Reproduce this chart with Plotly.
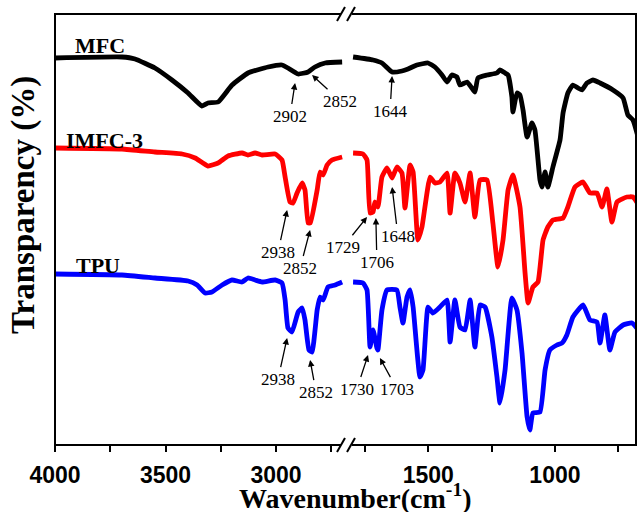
import plotly.graph_objects as go

# ---- data (wavenumber in cm-1, transparency in arbitrary offset units) ----
mfc_wn_hi = [4000, 3697, 3638, 3548, 3471, 3398, 3335, 3308, 3262, 3199, 3127, 3036, 2973, 2946, 2900, 2855, 2824, 2778, 2701]
mfc_t_hi = [387, 388, 386, 377, 365, 352, 339, 342, 343, 360, 372, 378, 380, 377, 371, 373, 378, 382, 383]
mfc_wn_lo = [1797, 1718, 1683, 1643, 1604, 1580, 1545, 1501, 1474, 1446, 1426, 1407, 1387, 1375, 1347, 1328, 1316, 1304,
             1268, 1229, 1217, 1197, 1185, 1170, 1166, 1150, 1138, 1126, 1110, 1091, 1079, 1059, 1051, 1039, 1028, 1008,
             980, 968, 949, 929, 909, 893, 874, 850, 822, 771, 731, 712, 692, 672]
mfc_t_lo = [388, 385, 382, 373, 374, 376, 380, 382, 378, 370, 363, 370, 368, 360, 363, 357, 353, 367,
            370, 372, 375, 372, 370, 348, 333, 352, 350, 335, 308, 322, 315, 265, 258, 273, 258, 278,
            305, 332, 352, 360, 357, 355, 362, 365, 362, 355, 347, 330, 325, 308]

imfc_wn_hi = [4000, 3697, 3548, 3425, 3366, 3308, 3262, 3217, 3154, 3127, 3095, 3063, 3004, 2973, 2959, 2937, 2923,
              2905, 2882, 2869, 2855, 2845, 2814, 2801, 2787, 2769, 2747, 2701]
imfc_t_hi = [297, 296, 293, 291, 287, 279, 282, 289, 292, 290, 292, 290, 291, 285, 268, 243, 242,
             252, 262, 255, 222, 222, 255, 273, 270, 280, 285, 288]
imfc_wn_lo = [1797, 1758, 1742, 1730, 1718, 1711, 1699, 1683, 1663, 1643, 1624, 1604, 1592, 1572, 1560, 1541, 1525,
              1493, 1474, 1454, 1426, 1414, 1395, 1375, 1355, 1335, 1316, 1296, 1268, 1245, 1225, 1205, 1185, 1166,
              1138, 1118, 1106, 1087, 1067, 1047, 1028, 1008, 968, 949, 921, 889, 862, 834, 814, 795, 775, 755, 716,
              692, 664]
imfc_t_lo = [292, 291, 285, 232, 233, 243, 238, 268, 277, 267, 278, 272, 237, 280, 273, 205, 218,
             268, 262, 263, 272, 232, 272, 262, 243, 272, 228, 265, 265, 222, 178, 205, 255, 270,
             238, 172, 142, 158, 163, 205, 218, 225, 227, 238, 258, 263, 252, 252, 238, 256, 223, 243, 248,
             248, 238]

tpu_wn_hi = [4000, 3697, 3548, 3398, 3357, 3321, 3290, 3244, 3199, 3154, 3127, 3095, 3063, 3004, 2973, 2959, 2946,
             2928, 2900, 2882, 2869, 2851, 2837, 2814, 2801, 2787, 2765, 2733, 2701]
tpu_t_hi = [171, 170, 167, 164, 160, 152, 153, 160, 165, 163, 167, 165, 163, 165, 162, 145, 117,
            113, 133, 137, 125, 95, 93, 135, 148, 145, 158, 160, 163]
tpu_wn_lo = [1797, 1758, 1742, 1730, 1718, 1703, 1699, 1683, 1663, 1624, 1612, 1600, 1584, 1572, 1560, 1533, 1521,
             1501, 1482, 1454, 1426, 1414, 1395, 1375, 1355, 1335, 1316, 1296, 1276, 1249, 1229, 1217, 1197, 1170,
             1150, 1130, 1110, 1099, 1087, 1059, 1039, 1020, 992, 972, 953, 929, 889, 862, 834, 822, 803, 783, 763,
             731, 696, 664]
tpu_t_lo = [163, 162, 155, 98, 115, 97, 95, 135, 155, 155, 138, 122, 148, 155, 138, 68, 75,
            138, 132, 138, 145, 103, 145, 118, 115, 145, 98, 140, 138, 108, 68, 42, 75, 147,
            135, 92, 28, 15, 32, 33, 75, 95, 100, 102, 110, 128, 140, 125, 123, 102, 130, 95, 113,
            120, 122, 113]

series = [
    ("MFC", "#000000", mfc_wn_hi, mfc_t_hi, mfc_wn_lo, mfc_t_lo),
    ("IMFC-3", "#ff0000", imfc_wn_hi, imfc_t_hi, imfc_wn_lo, imfc_t_lo),
    ("TPU", "#0000ff", tpu_wn_hi, tpu_t_hi, tpu_wn_lo, tpu_t_lo),
]

# series name labels (wavenumber, value)
name_pos = {"MFC": (3796, 400), "IMFC-3": (3774, 305), "TPU": (3805, 180)}

# peak annotations: (axis, text, tip_wn, tip_t, label_wn, label_t)
peaks = [
    ("x", "2902", 2914, 362, 2937, 329),
    ("x", "2852", 2837, 370, 2710, 344),
    ("x2", "1644", 1643, 369, 1651, 334),
    ("x", "2938", 2950, 235, 2991, 193),
    ("x", "2852", 2846, 215, 2891, 177),
    ("x2", "1729", 1742, 228, 1837, 198),
    ("x2", "1706", 1707, 227, 1703, 183),
    ("x2", "1648", 1643, 258, 1620, 209),
    ("x", "2938", 2950, 107, 2991, 66),
    ("x", "2852", 2846, 85, 2819, 53),
    ("x2", "1730", 1738, 90, 1782, 56),
    ("x2", "1703", 1691, 87, 1624, 56),
]

left_ticks = [4000, 3750, 3500, 3250, 3000, 2750]
left_text = ["4000", "", "3500", "", "3000", ""]
right_ticks = [1750, 1500, 1250, 1000, 750]
right_text = ["", "1500", "", "1000", ""]

SERIF = "Liberation Serif"
SANS = "Liberation Sans"

fig = go.Figure()
for name, color, wh, th, wl, tl in series:
    fig.add_trace(go.Scatter(x=wh, y=th, mode="lines",
                             line=dict(color=color, width=4.8, shape="spline", smoothing=0.4),
                             xaxis="x", yaxis="y", showlegend=False, hoverinfo="skip"))
    fig.add_trace(go.Scatter(x=wl, y=tl, mode="lines",
                             line=dict(color=color, width=4.8, shape="spline", smoothing=0.4),
                             xaxis="x2", yaxis="y", showlegend=False, hoverinfo="skip"))

split = (347 - 55) / 581.0

axis_common = dict(showgrid=False, zeroline=False, showline=False, ticks="outside", ticklen=6, tickwidth=2,
                   tickcolor="black", tickfont=dict(family=SANS, size=23, color="black", weight="bold"),
                   ticklabelstandoff=3)
fig.update_layout(
    width=640, height=512,
    margin=dict(l=55, r=4, t=14, b=67),
    plot_bgcolor="white", paper_bgcolor="white",
    xaxis=dict(domain=[0, split], range=[4000, 2679], tickmode="array", tickvals=left_ticks,
               ticktext=left_text, anchor="y", **axis_common),
    xaxis2=dict(domain=[split, 1], range=[1821, 680], tickmode="array", tickvals=right_ticks,
                ticktext=right_text, anchor="y", **axis_common),
    yaxis=dict(range=[0, 431], showticklabels=False, showgrid=False, zeroline=False, ticks="",
               showline=False, anchor="x"),
)

annotations = []
for name, color, *_ in series:
    wx, wy = name_pos[name]
    annotations.append(dict(x=wx, y=wy, xref="x", yref="y", text=name, showarrow=False,
                            xanchor="center", yanchor="middle",
                            font=dict(family=SERIF, size=22, color="black", weight="bold")))
for ax_name, txt, tx, ty, lx, ly in peaks:
    annotations.append(dict(x=tx, y=ty, xref=ax_name, yref="y", ax=lx, ay=ly, axref=ax_name, ayref="y",
                            text=txt, showarrow=True, arrowhead=2, arrowsize=1, arrowwidth=1.3,
                            arrowcolor="black", standoff=0, startstandoff=1,
                            font=dict(family=SERIF, size=17, color="black")))
annotations.append(dict(x=(355 - 55) / 581.0, y=(445 - 496) / 431.0, xref="paper", yref="paper",
                        xanchor="center", yanchor="middle",
                        text="Wavenumber(cm<sup>-1</sup>)", showarrow=False,
                        font=dict(family=SERIF, size=28, color="black", weight="bold")))
annotations.append(dict(x=(23 - 55) / 581.0, y=(445 - 205) / 431.0, xref="paper", yref="paper",
                        xanchor="center", yanchor="middle",
                        text="Transparency (%)", textangle=-90, showarrow=False,
                        font=dict(family=SERIF, size=33, color="black", weight="bold")))
fig.update_layout(annotations=annotations)

# frame and axis-break marks
def px(x):
    return (x - 55) / 581.0

def py(y):
    return (445 - y) / 431.0

shapes = [dict(type="rect", xref="paper", yref="paper", x0=0, x1=1, y0=0, y1=1,
               line=dict(color="black", width=2), fillcolor="rgba(0,0,0,0)")]
for yl in (14, 445):
    shapes.append(dict(type="rect", xref="paper", yref="paper", x0=px(341), x1=px(352),
                       y0=py(yl + 3), y1=py(yl - 3), line=dict(width=0), fillcolor="white"))
for yl in (14, 445):
    for xo in (0, 10):
        shapes.append(dict(type="line", xref="paper", yref="paper",
                           x0=px(337 + xo), y0=py(yl + 7), x1=px(345 + xo), y1=py(yl - 7),
                           line=dict(color="black", width=2)))
fig.update_layout(shapes=shapes)

fig.write_html("out.html")
